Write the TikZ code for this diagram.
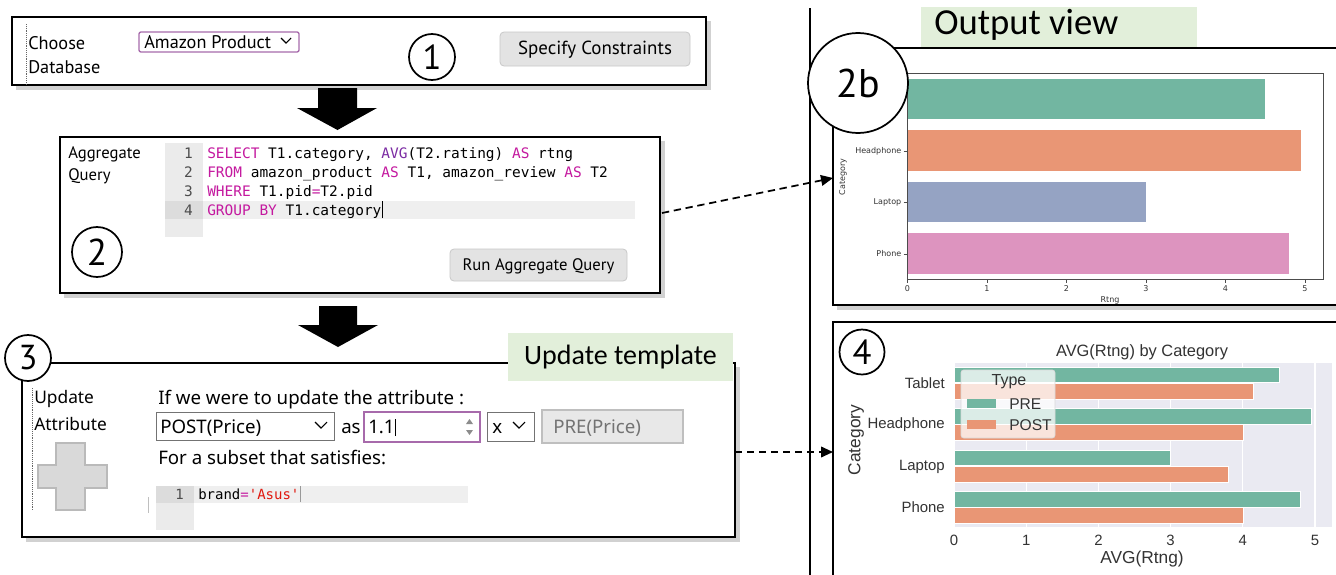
\documentclass[tikz,border=0pt]{standalone}
\usepackage{fontspec}
\setmainfont{PT Sans}
\newfontfamily\calib{Carlito}
\newfontfamily\mono{DejaVu Sans Mono}
\newfontfamily\arialf{Liberation Sans}
\newfontfamily\dvs{DejaVu Sans}
\newfontfamily\notos{Noto Sans}
\usetikzlibrary{arrows.meta}
\definecolor{kw}{HTML}{C4199F}
\definecolor{fn}{HTML}{7B2BA3}
\definecolor{str}{HTML}{E0190F}
\definecolor{lbl}{HTML}{E2EFDA}
\definecolor{gut}{HTML}{EBEBEB}
\definecolor{hl}{HTML}{EFEFEF}
\definecolor{gutd}{HTML}{DCDCDC}
\definecolor{btn}{HTML}{E3E3E3}
\definecolor{btnb}{HTML}{C8C8C8}
\definecolor{purp}{HTML}{A76AAB}
\definecolor{sgreen}{HTML}{72B6A1}
\definecolor{sorange}{HTML}{E99675}
\definecolor{sblue}{HTML}{95A3C3}
\definecolor{spink}{HTML}{DD94BF}
\definecolor{sbg}{HTML}{EAEAF2}
\tikzset{
  panel/.style={draw=black, line width=1.5pt, fill=white},
  ui/.style={font=\fontsize{12.5}{14}\selectfont, inner sep=0pt, anchor=base west},
  uia/.style={font=\fontsize{13.7}{15}\selectfont, inner sep=0pt, anchor=base west},
  uib/.style={font=\notos\fontsize{14}{16}\selectfont, inner sep=0pt, anchor=base west},
  uic/.style={font=\notos\fontsize{13}{15}\selectfont, inner sep=0pt, anchor=base west},
  code/.style={font=\mono\fontsize{10.85}{12}\selectfont, inner sep=0pt, anchor=base west},
  lnum/.style={font=\mono\fontsize{10.85}{12}\selectfont, inner sep=0pt, anchor=base east, text=black!70},
  button/.style={draw=btnb, fill=btn, rounded corners=3pt, line width=0.6pt},
  circnum/.style={circle, draw=black, line width=1.3pt, fill=white, inner sep=0pt},
  biglabel/.style={fill=lbl, inner sep=0pt},
  bigarrow/.style={fill=black},
  flow/.style={-{Triangle[length=9pt,width=8pt]}, dashed, dash pattern=on 5.5pt off 3.5pt, line width=1.3pt},
  chev/.style={line width=0.8pt},
  tickl/.style={font=\dvs\fontsize{6}{7}\selectfont, inner sep=0pt, text=black!80},
  ptick/.style={font=\arialf\fontsize{11.2}{12}\selectfont, inner sep=0pt, text=black!80},
  paxis/.style={font=\arialf\fontsize{13}{14}\selectfont, inner sep=0pt, text=black!80},
  shadowbox/.style={fill=black!18},
}
\begin{document}
\begin{tikzpicture}[x=0.75pt,y=-0.75pt]
\useasboundingbox (0,0) rectangle (1336,575);
% ---------- Box 1 ----------
\fill[shadowbox] (16,21) rectangle (711,90);
\draw[panel] (12,17) rectangle (706,85);
\draw[black!60, densely dotted, line width=0.4pt] (26,24) -- (26,85);
\node[uia] (choose) at (28,49) {Choose};
\node[uia] (database) at (28,73) {Database};
\draw[purp, line width=1pt, rounded corners=1.5pt, fill=white] (139,32) rectangle (299,52);
\node[uia] (db) at (144,48) {Amazon Product};
\draw[chev] (281,38) -- (286,43) -- (291,38);
\node[circnum, minimum size=46pt*0.75] (c1) at (432,57) {\fontsize{26}{28}\selectfont 1};
\draw[button] (500,32) rectangle (690,66);
\node[uia, anchor=base, font=\fontsize{14.2}{16}\selectfont] (spec) at (595,54) {Specify Constraints};
% ---------- arrow 1 ----------
\fill[bigarrow] (318,88) -- (357,88) -- (357,108) -- (377,108) -- (337.5,130) -- (297,108) -- (318,108) -- cycle;
% ---------- Box 2 ----------
\fill[shadowbox] (64,141) rectangle (665,298);
\draw[panel] (60,137) rectangle (660,293);
\node[ui] (agg) at (68,158) {Aggregate};
\node[ui] (qry) at (68,180) {Query};
\fill[gut] (165,143) rectangle (203,237);
\fill[hl] (203,201) rectangle (635,219);
\fill[gutd] (165,201) rectangle (203,219);
\node[lnum] at (193,158) {1};
\node[lnum] at (193,177) {2};
\node[lnum] at (193,196) {3};
\node[lnum] at (193,215) {4};
\node[code] (q1) at (207,158) {\textcolor{kw}{SELECT} T1.category, \textcolor{fn}{AVG}(T2.rating) \textcolor{kw}{AS} rtng};
\node[code] (q2) at (207,177) {\textcolor{kw}{FROM} amazon\_product \textcolor{kw}{AS} T1, amazon\_review \textcolor{kw}{AS} T2};
\node[code] (q3) at (207,196) {\textcolor{kw}{WHERE} T1.pid\textcolor{kw}{=}T2.pid};
\node[code] (q4) at (207,215) {\textcolor{kw}{GROUP BY} T1.category};
\draw[line width=0.7pt] (q4.base east) ++(1,3) -- ++(0,-17);
\node[circnum, minimum size=50pt*0.75] (c2) at (97,252) {\fontsize{28}{30}\selectfont 2};
\draw[button] (450,249) rectangle (627,281);
\node[ui, anchor=base] (run) at (538.5,270) {Run Aggregate Query};
% ---------- arrow 2 ----------
\fill[bigarrow] (319,306) -- (357,306) -- (357,325) -- (378,325) -- (338,347) -- (298,325) -- (319,325) -- cycle;
% ---------- Box 3 ----------
\fill[shadowbox] (26,367) rectangle (740,542);
\draw[panel] (22,363) rectangle (735,537);
\node[biglabel, minimum width=225pt*0.75, minimum height=48pt*0.75] (ut) at (620.5,357) {};
\node[font=\calib\fontsize{21}{24}\selectfont, inner sep=0pt] at (620.5,357) {Update template};
\node[circnum, minimum size=46pt*0.75] (c3) at (28,358) {\fontsize{26}{28}\selectfont 3};
\draw[black!60, densely dotted, line width=0.4pt] (32,388) -- (32,510);
\node[uic] (upd) at (34,403) {Update};
\node[uic] (attr) at (34,430) {Attribute};
\draw[fill=black!15, draw=black!27, line width=0.8pt]
  (56,443) -- (85,443) -- (85,465) -- (107,465) -- (107,488) -- (85,488) -- (85,510) -- (56,510) -- (56,488) -- (38,488) -- (38,465) -- (56,465) -- cycle;
\node[uib] (ifwe) at (158,404) {If we were to update the attribute :};
\draw[black!55, line width=0.6pt, fill=white] (156,412) rectangle (334,440);
\node[uib] (post) at (160,433) {POST(Price)};
\draw[chev] (315,422) -- (321,428) -- (327,422);
\node[uib] (as) at (341,433) {as};
\draw[purp, line width=1pt, fill=white] (364,412) rectangle (480,442);
\node[uib] (val) at (368,433) {1.1};
\draw[line width=0.7pt] (val.base east) ++(1,3) -- ++(0,-17);
\fill[black!45] (466,424) -- (469.5,419) -- (473,424) -- cycle;
\fill[black!45] (466,430) -- (469.5,435) -- (473,430) -- cycle;
\draw[black!55, line width=0.6pt, fill=white] (487,412) rectangle (534,441);
\node[uib] (xop) at (492,433) {x};
\draw[chev] (513,422) -- (519,428) -- (525,422);
\draw[black!25, line width=0.8pt, fill=black!9] (542,410) rectangle (683,443);
\node[uib, text=black!55] (pre) at (553,433) {PRE(Price)};
\node[uib] (subset) at (158,464) {For a subset that satisfies:};
\draw[black!25, line width=0.5pt] (148,497) -- (148,513);
\fill[gut] (156,486) rectangle (194,530);
\fill[hl] (194,486) rectangle (468,503);
\fill[gutd] (156,486) rectangle (194,503);
\node[lnum, font=\mono\fontsize{10.5}{12}\selectfont] at (184,499) {1};
\node[code, font=\mono\fontsize{10.5}{12}\selectfont] (brand) at (198,499) {brand\textcolor{kw}{=}\textcolor{str}{'Asus'}};
\draw[black!40, line width=0.4pt] (brand.base east) ++(1,3) -- ++(0,-16);
% ---------- divider ----------
\draw[line width=1.5pt] (810,8) -- (810,575);
% ---------- Output view ----------
\node[biglabel, minimum width=276pt*0.75, minimum height=41pt*0.75] (ov) at (1059,27) {};
\node[font=\calib\fontsize{27.5}{30}\selectfont, inner sep=0pt, anchor=base west] at (934,34) {Output view};
\fill[shadowbox] (837,52) rectangle (1336,310);
\draw[panel] (1340,48) -- (833,48) -- (833,305) -- (1340,305);
% plot 2b
\def\ox{907.5}
\def\ux{79.5}
\draw[black!70, line width=0.6pt] (\ox,73) rectangle (1323,279);
\fill[sgreen]  (\ox,79) rectangle (\ox+4.5*\ux,119);
\fill[sorange] (\ox,130) rectangle (\ox+4.95*\ux,171);
\fill[sblue]   (\ox,182) rectangle (\ox+3.0*\ux,222);
\fill[spink]   (\ox,233) rectangle (\ox+4.8*\ux,274);
\foreach \y/\t in {151/Headphone,202/Laptop,254/Phone}{
  \draw[black!70, line width=0.5pt] (\ox-4,\y) -- (\ox,\y);
  \node[tickl, anchor=east] at (\ox-6,\y) {\t};
}
\foreach \k in {0,1,2,3,4,5}{
  \draw[black!70, line width=0.5pt] (\ox+\k*\ux,279) -- (\ox+\k*\ux,283);
  \node[tickl, anchor=north] at (\ox+\k*\ux,285) {\k};
}
\node[tickl, anchor=north] at (1110,296) {Rtng};
\node[tickl, rotate=90] at (843,177) {Category};
\node[circnum, minimum size=100pt*0.75] (c2b) at (858,83) {\fontsize{30}{32}\selectfont 2b};
% ---------- Box 4 ----------
\draw[panel] (1340,322) -- (833,322) -- (833,580);
\fill[sbg] (954,363) rectangle (1332,527);
\def\uy{72.2}
\foreach \k in {0,1,2,3,4,5}{
  \draw[white, line width=0.8pt] (954+\k*\uy,363) -- (954+\k*\uy,527);
  \node[ptick, anchor=north] at (954+\k*\uy,535) {\k};
}
\tikzset{bar/.style={draw=white, line width=0.4pt}}
\fill[sgreen, bar]  (954,367) rectangle (954+4.5*\uy,382);
\fill[sorange, bar] (954,383) rectangle (954+4.15*\uy,399);
\fill[sgreen, bar]  (954,408) rectangle (954+4.95*\uy,424);
\fill[sorange, bar] (954,424) rectangle (954+4.0*\uy,440);
\fill[sgreen, bar]  (954,450) rectangle (954+3.0*\uy,465);
\fill[sorange, bar] (954,466) rectangle (954+3.8*\uy,482);
\fill[sgreen, bar]  (954,491) rectangle (954+4.8*\uy,507);
\fill[sorange, bar] (954,507) rectangle (954+4.0*\uy,523);
\foreach \y/\t in {383/Tablet,425/Headphone,467/Laptop,507/Phone}{
  \node[ptick, anchor=east] at (945,\y) {\t};
}
\node[ptick, font=\arialf\fontsize{12.3}{14}\selectfont] at (1142,352) {AVG(Rtng) by Category};
\node[paxis] at (1142,559) {AVG(Rtng)};
\node[paxis, rotate=90] at (856,440) {Category};
% legend
\draw[fill=white, fill opacity=0.75, draw=black!15, rounded corners=2pt, line width=0.5pt] (961,370) rectangle (1055,438);
\node[ptick, font=\arialf\fontsize{12}{14}\selectfont] at (1009,382) {Type};
\fill[sgreen] (967,399) rectangle (996,408);
\node[ptick, anchor=west, font=\arialf\fontsize{11.7}{14}\selectfont] at (1009,404) {PRE};
\fill[sorange] (967,420) rectangle (996,429);
\node[ptick, anchor=west, font=\arialf\fontsize{11.7}{14}\selectfont] at (1009,425) {POST};
\node[circnum, minimum size=45pt*0.75] (c4) at (862,352) {\fontsize{26}{28}\selectfont 4};
% ---------- connectors ----------
\coordinate (f1s) at (662,213);
\coordinate (f1e) at (833,178);
\coordinate (f2s) at (735,452);
\coordinate (f2e) at (833,452);
\draw[flow] (f1s) -- (f1e);
\draw[flow] (f2s) -- (f2e);
\end{tikzpicture}
\end{document}
